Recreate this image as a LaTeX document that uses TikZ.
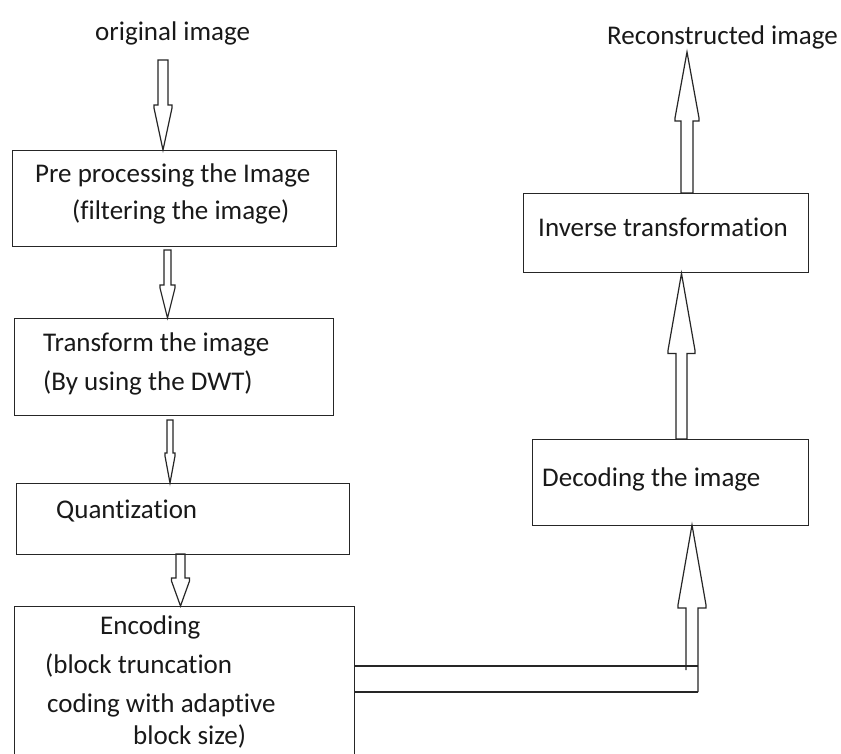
\documentclass[tikz,border=0pt]{standalone}
\usepackage{fontspec}
\setmainfont{Carlito}[Ligatures=NoCommon]
\usetikzlibrary{calc}
\tikzset{
  box/.style={draw=black!85, line width=1.4pt, inner sep=0pt, anchor=north west},
  lbl/.style={anchor=base west, inner sep=0pt, font=\fontsize{27}{33}\selectfont, text=black!90},
  arr/.style={draw=black!85, line width=1.2pt, line join=miter},
}
\newcommand\darr[5]{\draw[arr] ($(#1)+(-#3,0)$) -- ($(#2)+(-#3,-#5)$) -- ($(#2)+(-#4,-#5)$) -- ($(#2)+(-#4,-#5+3)$) -- (#2) -- ($(#2)+(#4,-#5+3)$) -- ($(#2)+(#4,-#5)$) -- ($(#2)+(#3,-#5)$) -- ($(#1)+(#3,0)$) -- cycle;}
\newcommand\uarr[5]{\draw[arr] ($(#1)+(-#3,0)$) -- ($(#2)+(-#3,#5)$) -- ($(#2)+(-#4,#5)$) -- ($(#2)+(-#4,#5-3)$) -- (#2) -- ($(#2)+(#4,#5-3)$) -- ($(#2)+(#4,#5)$) -- ($(#2)+(#3,#5)$) -- ($(#1)+(#3,0)$) -- cycle;}
\begin{document}
\begin{tikzpicture}[x=1pt,y=-1pt]
\fill[white] (0,0) rectangle (841,753);
\useasboundingbox (0,0) rectangle (841,753);

% boxes
\node[box, minimum width=324pt, minimum height=96pt] (pre) at (12,150) {};
\node[box, minimum width=319pt, minimum height=97pt] (dwt) at (14,318) {};
\node[box, minimum width=333pt, minimum height=71pt] (quant) at (16,483) {};
\node[box, minimum width=340pt, minimum height=160pt] (enc) at (14,606) {};
\node[box, minimum width=276pt, minimum height=86pt] (dec) at (532,439) {};
\node[box, minimum width=285pt, minimum height=79pt] (inv) at (523,193) {};

% texts
\node[lbl] (orig) at (95,40) {original image};
\node[lbl] (recon) at (607,44) {Reconstructed image};
\node[lbl] (t1a) at (35,182) {Pre processing the Image};
\node[lbl] (t1b) at (72,219) {(filtering the image)};
\node[lbl] (t2a) at (43,351) {Transform the image};
\node[lbl] (t2b) at (43,390) {(By using the DWT)};
\node[lbl] (t3) at (56,518) {Quantization};
\node[lbl] (t4a) at (100,634) {Encoding};
\node[lbl] (t4b) at (45,673) {(block truncation};
\node[lbl] (t4c) at (47,712) {coding with adaptive};
\node[lbl] (t4d) at (133,744) {block size)};
\node[lbl] (t5) at (542,486) {Decoding the image};
\node[lbl] (t6) at (538,236) {Inverse transformation};

% downward block arrows
\coordinate (s1) at (163,60);
\coordinate (e1) at (s1 |- pre.north);
\darr{s1}{e1}{5}{9}{45}
\coordinate (s2) at (167.5,250);
\coordinate (e2) at (s2 |- dwt.north);
\darr{s2}{e2}{3.5}{7.5}{33}
\coordinate (s3) at (170,420);
\coordinate (e3) at (s3 |- quant.north);
\darr{s3}{e3}{3}{5}{30}
\coordinate (s4) at (180.5,554);
\coordinate (e4) at (s4 |- enc.north);
\darr{s4}{e4}{4.5}{9}{28}

% encoding -> decoding
\coordinate (b1) at (354,666);
\coordinate (b2) at (354,692);
\coordinate (c1) at (698,666);
\coordinate (c2) at (698,692);
\draw[arr] (b1) -- (c1);
\draw[arr] (b2) -- (c2);
\coordinate (e5) at (692,525);
\draw[arr] (686,670) -- (686,608) -- (678,608) -- (678,605) -- (e5) -- (706,605) -- (706,608) -- (698,608) -- (c2);

% upward block arrows
\coordinate (s6) at (681.5,439);
\coordinate (e6) at (s6 |- inv.south);
\uarr{s6}{e6}{5.5}{13.5}{80}
\coordinate (s7) at (687,193);
\coordinate (e7) at (687,52);
\uarr{s7}{e7}{6}{12}{69}
\end{tikzpicture}
\end{document}
